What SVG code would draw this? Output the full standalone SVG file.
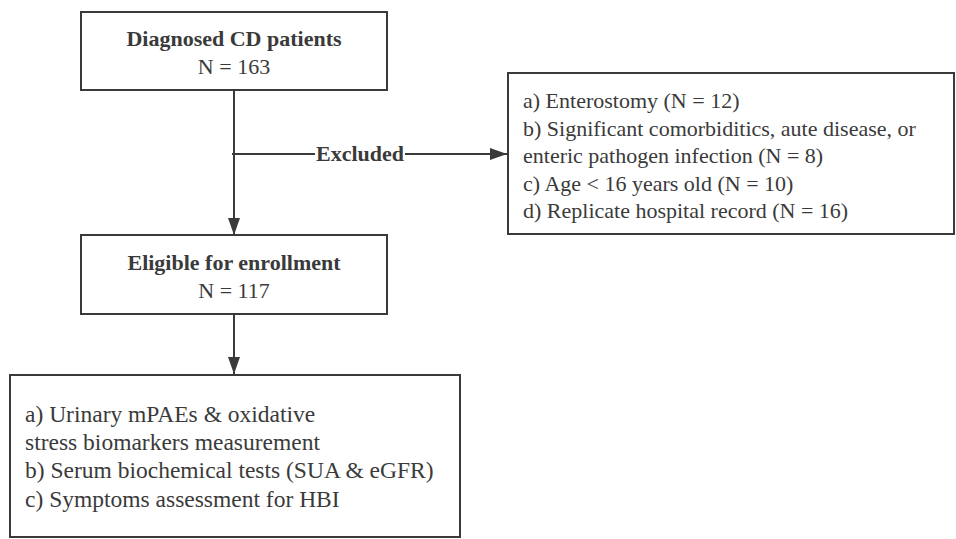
<svg xmlns="http://www.w3.org/2000/svg" width="956" height="539" viewBox="0 0 956 539">
<defs>
<marker id="ah" markerWidth="17" markerHeight="12" refX="17" refY="6" orient="auto" markerUnits="userSpaceOnUse">
<path d="M0,0 L17,6 L0,12 Z" fill="#3a3a3a"/>
</marker>
<style>
.box{fill:#fff;stroke:#3a3a3a;stroke-width:2}
.t{font-family:"Liberation Serif","Times New Roman",serif;font-size:22px;fill:#3a3a3a}
.l{font-size:23.5px}
.b{font-weight:bold}
.c{text-anchor:middle}
.ln{stroke:#3a3a3a;stroke-width:2;fill:none}
</style>
</defs>
<rect width="956" height="539" fill="#fff"/>
<g id="connectors">
<line class="ln" x1="234" y1="90" x2="234" y2="235" marker-end="url(#ah)"/>
<line class="ln" x1="232" y1="154" x2="507" y2="154" marker-end="url(#ah)"/>
<line class="ln" x1="234" y1="314" x2="234" y2="374" marker-end="url(#ah)"/>
<rect x="315" y="140" width="90" height="28" fill="#fff"/>
<text class="t b c" x="360" y="161">Excluded</text>
</g>
<g id="diagnosed">
<rect class="box" x="81" y="12" width="306" height="78"/>
<text class="t b c" x="234" y="46">Diagnosed CD patients</text>
<text class="t c" x="234" y="74">N = 163</text>
</g>
<g id="excluded">
<rect class="box" x="508" y="73" width="446" height="161"/>
<text class="t" x="523" y="108">a) Enterostomy (N = 12)</text>
<text class="t" x="523" y="136">b) Significant comorbiditics, aute disease, or</text>
<text class="t" x="523" y="163">enteric pathogen infection (N = 8)</text>
<text class="t" x="523" y="191">c) Age &lt; 16 years old (N = 10)</text>
<text class="t" x="523" y="218">d) Replicate hospital record (N = 16)</text>
</g>
<g id="eligible">
<rect class="box" x="81" y="235" width="306" height="79"/>
<text class="t b c" x="234" y="270">Eligible for enrollment</text>
<text class="t c" x="234" y="298">N = 117</text>
</g>
<g id="measures">
<rect class="box" x="10" y="375" width="450" height="162"/>
<text class="t l" x="25" y="422">a) Urinary mPAEs &amp; oxidative</text>
<text class="t l" x="25" y="450">stress biomarkers measurement</text>
<text class="t l" x="25" y="478">b) Serum biochemical tests (SUA &amp; eGFR)</text>
<text class="t l" x="25" y="507">c) Symptoms assessment for HBI</text>
</g>
</svg>
